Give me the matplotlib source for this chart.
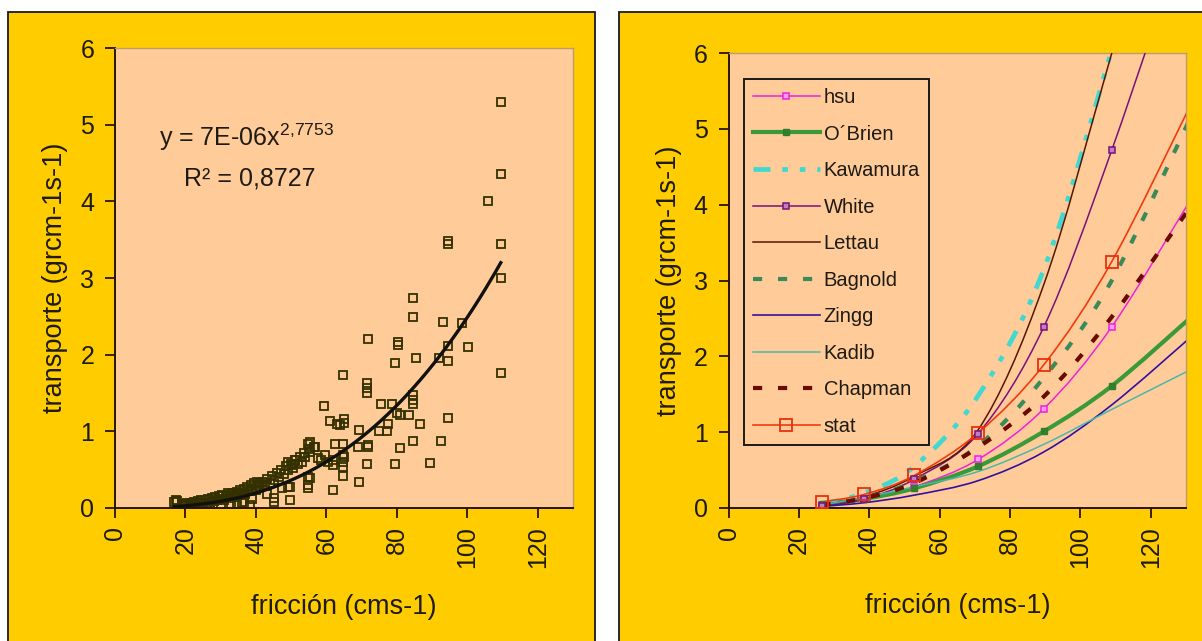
import numpy as np
import matplotlib
matplotlib.use("Agg")
import matplotlib.pyplot as plt
from matplotlib.path import Path
from matplotlib.patches import PathPatch, Rectangle
from matplotlib.lines import Line2D

plt.rcParams.update(
    {
        "font.family": ["Liberation Sans", "DejaVu Sans"],
        "font.size": 18,
        "mathtext.fontset": "custom",
        "mathtext.rm": "Liberation Sans",
        "mathtext.it": "Liberation Sans",
        "mathtext.default": "regular",
    }
)

# colours
panel_yellow = "#FFCC00"
plot_peach = "#FFCC99"
axis_col = "#2a1208"
text_col = "#1e1a14"
frame_light = "#c09a68"

# %% observed transport vs friction velocity
friction_obs = [
    109.5, 109.5, 105.9, 94.6, 94.6, 109.5, 109.5, 84.5, 84.5, 93.0, 98.4, 80.4, 80.4,
    85.4, 94.6, 100.2, 92.0, 94.6, 109.5, 84.5, 84.5, 84.5, 80.9, 83.5, 86.5, 94.6,
    84.5, 92.5, 80.9, 89.4,
    71.9, 79.4, 64.8, 71.4, 71.4, 71.4, 59.3, 75.5, 78.5, 77.5, 62.9, 65.0, 65.0, 75.0,
    69.3, 55.3, 56.7, 64.8, 69.0, 71.9, 71.9, 64.8, 64.8, 64.8, 71.4, 79.4, 64.8, 69.3,
    62.0, 54.8, 54.8, 54.8, 79.9, 77.1, 61.0, 63.8, 62.0, 62.0, 58.5, 60.5, 57.5, 64.9,
    62.4, 54.8, 56.4,
    17.3, 16.8, 34.5, 36.0, 38.3, 45.0, 45.0, 49.8, 49.2, 55.3, 49.2, 50.1, 55.3, 59.6,
    40.2, 41.1, 51.0, 49.6,
    17.5, 19.0, 19.5, 20.0, 20.5, 21.0, 21.5, 22.0, 22.5, 23.0, 23.5, 24.0, 24.5, 25.0,
    25.5, 26.0, 26.5, 27.0, 27.5, 28.0, 28.5, 29.0, 29.5, 30.0, 30.5, 31.0, 31.5, 32.0,
    32.5, 33.0, 33.5, 34.0, 34.5, 35.0, 35.5, 36.0, 36.5, 37.0, 37.5, 38.0, 38.5, 39.0,
    39.5, 40.0, 40.5, 41.0, 42.0, 42.5, 43.0, 44.0, 44.5, 45.0, 46.0, 46.5, 47.0, 48.0,
    48.5, 49.0, 50.0, 50.5, 51.0, 52.0, 52.5, 53.0, 53.5, 54.0, 55.0,
    23.0, 27.0, 30.0, 33.0, 36.5, 39.0, 43.0, 47.5,
]
transport_obs = [
    5.30, 4.36, 4.00, 3.48, 3.45, 3.45, 3.00, 2.74, 2.49, 2.43, 2.41, 2.16, 2.13,
    1.96, 2.11, 2.10, 1.96, 1.92, 1.76, 1.47, 1.41, 1.35, 1.21, 1.21, 1.10, 1.17,
    0.87, 0.87, 0.78, 0.59,
    2.20, 1.89, 1.73, 1.63, 1.56, 1.50, 1.33, 1.36, 1.36, 1.10, 1.10, 1.16, 1.11, 1.00,
    1.02, 0.86, 0.80, 0.84, 0.80, 0.82, 0.79, 0.69, 0.60, 0.54, 0.57, 0.57, 0.42, 0.34,
    0.24, 0.41, 0.30, 0.26, 1.24, 1.00, 1.13, 1.08, 0.63, 0.56, 0.62, 0.60, 0.65, 0.67,
    0.84, 0.84, 0.80,
    0.10, 0.08, 0.04, 0.06, 0.04, 0.13, 0.08, 0.10, 0.28, 0.39, 0.60, 0.56, 0.73, 0.69,
    0.34, 0.32, 0.63, 0.28,
    0.09, 0.05, 0.02, 0.04, 0.06, 0.03, 0.07, 0.05, 0.08, 0.04, 0.09, 0.06, 0.10, 0.07,
    0.11, 0.05, 0.12, 0.08, 0.13, 0.09, 0.14, 0.10, 0.15, 0.12, 0.17, 0.11, 0.16, 0.19,
    0.13, 0.18, 0.20, 0.15, 0.21, 0.17, 0.23, 0.20, 0.25, 0.18, 0.27, 0.22, 0.30, 0.25,
    0.32, 0.24, 0.30, 0.28, 0.34, 0.30, 0.38, 0.33, 0.42, 0.36, 0.45, 0.40, 0.50, 0.44,
    0.55, 0.50, 0.58, 0.52, 0.62, 0.57, 0.67, 0.60, 0.72, 0.66, 0.77,
    0.00, 0.02, 0.03, 0.05, 0.08, 0.12, 0.18, 0.26,
]

# power trendline printed on the chart
fit_coef = 7e-06
fit_exp = 2.7753
fit_r2 = "0,8727"

# %% model curves (friction velocity, transport)
u_model = [26.4, 38.6, 52.8, 70.9, 89.6, 108.9, 132.0]
q_hsu = [0.04, 0.12, 0.28, 0.64, 1.31, 2.39, 4.12]
q_obrien = [0.05, 0.12, 0.26, 0.55, 1.01, 1.61, 2.54]
q_kawamura = [0.05, 0.20, 0.55, 1.48, 3.15, 6.05, 10.0]
q_white = [0.02, 0.12, 0.38, 0.98, 2.39, 4.72, 7.9]
q_lettau = [0.04, 0.15, 0.42, 1.03, 2.95, 6.00, 9.8]
q_bagnold = [0.04, 0.13, 0.35, 0.82, 1.72, 3.00, 5.22]
q_zingg = [0.02, 0.07, 0.17, 0.36, 0.74, 1.36, 2.28]
q_kadib = [0.04, 0.14, 0.28, 0.48, 0.84, 1.30, 1.84]
q_chapman = [0.04, 0.13, 0.33, 0.80, 1.47, 2.52, 4.02]
q_stat = [0.08, 0.18, 0.43, 0.99, 1.89, 3.25, 5.38]

x_ticks = [0, 20, 40, 60, 80, 100, 120]
y_ticks = [0, 1, 2, 3, 4, 5, 6]


def smooth_path(xs, ys):
    # Catmull-Rom segments written as cubic Bezier curves
    pts = np.column_stack([xs, ys]).astype(float)
    n = len(pts)
    verts = [pts[0]]
    codes = [Path.MOVETO]
    for i in range(n - 1):
        p0 = pts[i - 1] if i > 0 else pts[i]
        p1 = pts[i]
        p2 = pts[i + 1]
        p3 = pts[i + 2] if i + 2 < n else pts[i + 1]
        verts += [p1 + (p2 - p0) / 6.0, p2 - (p3 - p1) / 6.0, p2]
        codes += [Path.CURVE4] * 3
    return Path(verts, codes)


def style_axes(ax):
    ax.set_facecolor(plot_peach)
    ax.set_xlim(0, 130)
    ax.set_ylim(0, 6)
    ax.set_xticks(x_ticks)
    ax.set_yticks(y_ticks)
    ax.set_xticklabels([str(t) for t in x_ticks], rotation=90)
    for side in ["left", "bottom"]:
        ax.spines[side].set_color(axis_col)
        ax.spines[side].set_linewidth(1.4)
    for side in ["top", "right"]:
        ax.spines[side].set_color(frame_light)
        ax.spines[side].set_linewidth(1.0)
    ax.tick_params(axis="both", direction="out", length=7, width=1.3,
                   color=axis_col, labelcolor=text_col, labelsize=18)
    ax.tick_params(axis="y", pad=8)
    ax.tick_params(axis="x", pad=6)
    ax.set_xlabel("fricción (cms-1)", fontsize=19.5, color=text_col)
    ax.set_ylabel("transporte (grcm-1s-1)", fontsize=19.5, color=text_col)
    ax.xaxis.label.set_va("center")
    ax.yaxis.label.set_va("center")
    ax.xaxis.set_label_coords(0.5, -0.215)
    ax.yaxis.set_label_coords(-0.13, 0.5)


fig = plt.figure(figsize=(12.02, 6.41), dpi=100)
fig.patch.set_facecolor("white")

# yellow chart panels with dark frames
for x0, w in [(0.0067, 0.4883), (0.515, 0.49)]:
    fig.patches.append(
        Rectangle((x0, -0.05), w, 1.0313, transform=fig.transFigure,
                  facecolor=panel_yellow, edgecolor="#1a1a1a", linewidth=1.3,
                  zorder=-1)
    )

# %% left: observations with power trendline
ax1 = fig.add_axes([0.0957, 0.2075, 0.381, 0.7176])
style_axes(ax1)
ax1.plot(friction_obs, transport_obs, linestyle="none", marker="s",
         markersize=6.2, markerfacecolor="none", markeredgecolor="#353000",
         markeredgewidth=1.3, zorder=2)
u_fit = np.linspace(min(friction_obs), max(friction_obs), 200)
ax1.plot(u_fit, fit_coef * u_fit ** fit_exp, color="#111111", linewidth=2.4,
         zorder=3)
ax1.text(12.5, 4.84, "y = 7E-06x$^{2{,}7753}$", fontsize=18, color=text_col,
         va="center", ha="left")
ax1.text(19.6, 4.30, "R² = " + fit_r2, fontsize=18, color=text_col,
         va="center", ha="left")

# %% right: model comparison
ax2 = fig.add_axes([0.6062, 0.2075, 0.3805, 0.7098])
style_axes(ax2)

dash_kaw = (0, (3.6, 2.5, 1.2, 2.5, 1.2, 2.5))
dash_sq = (0, (2.2, 3.8))

series = [
    ("hsu", q_hsu, dict(color="#EE22DD", lw=1.1, ls="-"),
     dict(marker="s", ms=4.5, mfc="#ff9ef0", mec="#EE22DD", mew=1.1)),
    ("O´Brien", q_obrien, dict(color="#3a9a3a", lw=3.0, ls="-"),
     dict(marker="s", ms=4.5, mfc="#2f7f2f", mec="#2f7f2f", mew=1.0)),
    ("Kawamura", q_kawamura, dict(color="#40D8D0", lw=3.4, ls=dash_kaw), None),
    ("White", q_white, dict(color="#7a107a", lw=1.1, ls="-"),
     dict(marker="s", ms=4.5, mfc="#c080c0", mec="#7a107a", mew=1.1)),
    ("Lettau", q_lettau, dict(color="#5a1500", lw=1.1, ls="-"), None),
    ("Bagnold", q_bagnold, dict(color="#3a8a5a", lw=3.0, ls=dash_sq), None),
    ("Zingg", q_zingg, dict(color="#3310a0", lw=1.2, ls="-"), None),
    ("Kadib", q_kadib, dict(color="#4ab8a8", lw=1.1, ls="-"), None),
    ("Chapman", q_chapman, dict(color="#6a0a00", lw=3.0, ls=dash_sq), None),
    ("stat", q_stat, dict(color="#f03a10", lw=1.2, ls="-"),
     dict(marker="s", ms=8.5, mfc="none", mec="#e83010", mew=1.3)),
]

handles = []
for name, q, line_kw, marker_kw in series:
    patch = PathPatch(smooth_path(u_model, q), facecolor="none",
                      edgecolor=line_kw["color"], linewidth=line_kw["lw"],
                      linestyle=line_kw["ls"], zorder=3)
    ax2.add_patch(patch)
    if marker_kw is not None:
        # the last point lies past the axis limit, so no marker for it
        ax2.plot(u_model[:-1], q[:-1], linestyle="none", zorder=4, **marker_kw)
    h = Line2D([], [], color=line_kw["color"], linewidth=line_kw["lw"],
               linestyle=line_kw["ls"], **(marker_kw or {}))
    handles.append((h, name))

leg = ax2.legend([h for h, _ in handles], [n for _, n in handles],
                 loc="upper left", bbox_to_anchor=(0.034, 0.943),
                 borderaxespad=0, fontsize=14.5, frameon=True, fancybox=False,
                 facecolor=plot_peach, framealpha=1, edgecolor="#1a1a1a",
                 handlelength=3.3, handletextpad=0.2, labelspacing=0.87,
                 borderpad=0.45, markerscale=1.0)
leg.get_frame().set_linewidth(1.4)
for t in leg.get_texts():
    t.set_color(text_col)

fig.savefig("out.png", dpi=100, facecolor=fig.get_facecolor())
